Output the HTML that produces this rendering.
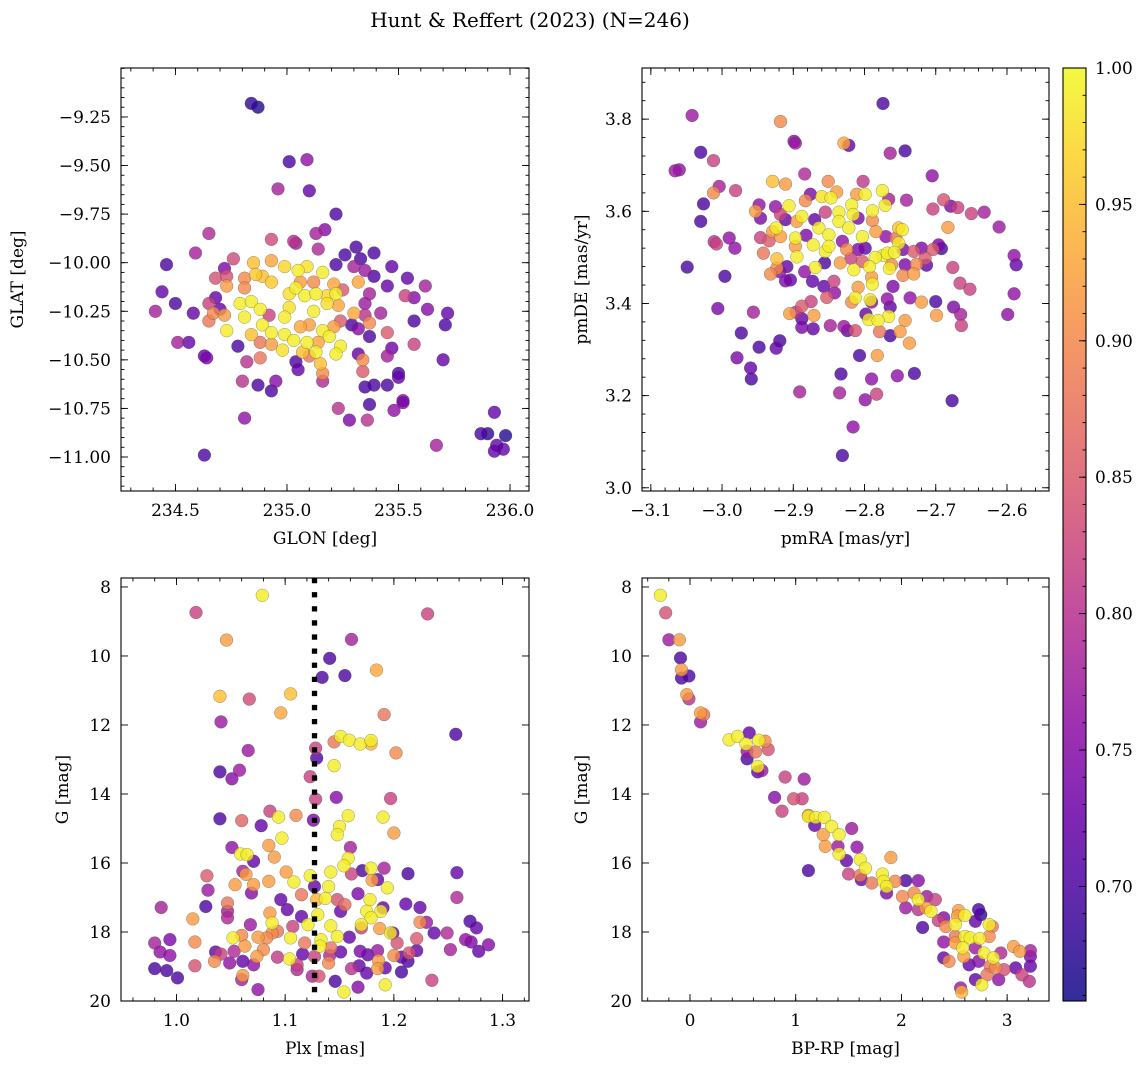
<!DOCTYPE html>
<html><head><meta charset="utf-8">
<style>
html,body{margin:0;padding:0;background:#fff;}
svg{display:block;font-family:"DejaVu Serif","Liberation Serif",serif;}
</style></head>
<body>
<svg id="fig" width="1148" height="1068" viewBox="0 0 1148 1068" xmlns="http://www.w3.org/2000/svg">
<text x="530" y="27" text-anchor="middle" font-size="20">Hunt &amp; Reffert (2023) (N=246)</text>
</svg>
<script>
// ---------- DATA ----------
// Panel 1: [GLON, GLAT, prob]
const skyPoints = [[234.84,-9.18,.68],[234.87,-9.20,.67],[235.01,-9.48,.70],[235.09,-9.47,.76],[234.96,-9.62,.78],[235.10,-9.63,.72],[235.22,-9.75,.70],[234.65,-9.85,.79],[235.13,-9.85,.78],[235.17,-9.83,.75],[234.93,-9.88,.83],[235.03,-9.89,.80],[235.04,-9.90,.78],[235.14,-9.93,.79],[234.59,-9.95,.78],[235.31,-9.92,.70],[235.39,-9.95,.70],[234.46,-10.01,.70],[235.26,-9.96,.70],[235.33,-9.98,.70],[235.22,-10.01,.70],[235.47,-10.02,.72],[234.76,-9.98,.83],[234.72,-10.03,.74],[234.85,-10.00,.95],[234.93,-9.99,.93],[234.99,-10.02,.97],[235.09,-10.02,.98],[235.05,-10.04,.99],[235.16,-10.05,.99],[235.30,-10.02,.78],[235.35,-10.04,.77],[235.39,-10.07,.70],[234.68,-10.08,.84],[234.73,-10.07,.84],[234.81,-10.08,.90],[234.86,-10.06,.96],[234.89,-10.07,.95],[234.93,-10.10,.96],[235.06,-10.10,.92],[235.12,-10.10,.90],[235.21,-10.11,.93],[235.32,-10.10,.93],[235.54,-10.08,.72],[235.62,-10.12,.78],[234.44,-10.15,.72],[234.73,-10.12,.92],[234.81,-10.13,.90],[235.04,-10.13,.99],[235.01,-10.16,.98],[235.08,-10.17,.99],[235.13,-10.16,.99],[235.18,-10.17,.97],[235.22,-10.16,.99],[235.25,-10.14,.85],[235.37,-10.16,.78],[235.45,-10.12,.72],[235.53,-10.17,.82],[235.57,-10.18,.75],[234.50,-10.21,.70],[234.68,-10.18,.72],[234.79,-10.21,.99],[234.84,-10.20,.99],[234.88,-10.24,.99],[235.01,-10.23,.98],[235.18,-10.21,.98],[235.23,-10.22,.93],[235.35,-10.21,.77],[235.63,-10.24,.75],[234.41,-10.25,.78],[234.58,-10.26,.72],[234.65,-10.21,.82],[234.70,-10.24,.72],[234.67,-10.26,.90],[234.72,-10.27,.92],[234.65,-10.30,.88],[234.81,-10.28,.99],[234.92,-10.27,.82],[234.99,-10.28,.99],[235.12,-10.25,.99],[235.30,-10.26,.93],[235.35,-10.27,.80],[235.42,-10.26,.78],[235.72,-10.26,.72],[234.73,-10.35,.99],[234.89,-10.32,.99],[234.84,-10.37,.95],[234.93,-10.36,.99],[235.06,-10.33,.93],[235.10,-10.32,.92],[235.16,-10.35,.99],[235.21,-10.33,.92],[235.24,-10.30,.85],[235.29,-10.32,.70],[235.32,-10.34,.75],[235.37,-10.31,.90],[235.57,-10.30,.70],[235.71,-10.32,.70],[235.45,-10.36,.85],[234.51,-10.41,.78],[234.56,-10.41,.72],[234.78,-10.43,.70],[234.88,-10.41,.88],[234.93,-10.42,.92],[234.99,-10.37,.99],[235.03,-10.40,.99],[235.09,-10.41,.99],[235.14,-10.41,.93],[235.19,-10.38,.99],[235.24,-10.43,.99],[235.37,-10.38,.70],[235.57,-10.42,.82],[234.98,-10.45,.98],[235.07,-10.46,.95],[235.13,-10.46,.99],[235.22,-10.47,.99],[235.32,-10.47,.72],[235.47,-10.44,.73],[235.45,-10.48,.78],[234.63,-10.48,.72],[234.64,-10.49,.74],[234.82,-10.51,.80],[234.88,-10.49,.88],[235.04,-10.51,.70],[235.10,-10.48,.88],[235.15,-10.52,.95],[235.34,-10.50,.90],[235.70,-10.50,.72],[235.05,-10.55,.72],[235.16,-10.57,.90],[235.34,-10.56,.85],[234.80,-10.61,.80],[234.87,-10.63,.70],[234.95,-10.61,.75],[234.93,-10.66,.70],[235.16,-10.61,.79],[235.35,-10.64,.70],[235.39,-10.63,.70],[235.45,-10.63,.70],[235.50,-10.57,.70],[235.50,-10.59,.72],[235.52,-10.71,.74],[235.52,-10.72,.74],[235.37,-10.73,.70],[235.23,-10.75,.80],[235.28,-10.81,.74],[235.36,-10.81,.80],[235.48,-10.76,.76],[234.81,-10.80,.76],[234.63,-10.99,.70],[235.67,-10.94,.78],[235.93,-10.77,.72],[235.87,-10.88,.70],[235.90,-10.88,.68],[235.98,-10.89,.67],[235.94,-10.94,.72],[235.93,-10.97,.72],[235.97,-10.96,.72]];

// Panel 2: [pmRA, pmDE, prob]
const pmPoints = [[-3.042,3.808,.77],[-2.774,3.834,.70],[-2.918,3.795,.90],[-2.899,3.752,.76],[-2.897,3.748,.77],[-2.829,3.748,.93],[-2.822,3.743,.72],[-2.764,3.726,.78],[-2.743,3.731,.70],[-3.030,3.728,.70],[-3.012,3.710,.82],[-3.066,3.688,.77],[-3.060,3.690,.76],[-2.884,3.681,.79],[-2.705,3.677,.76],[-3.004,3.654,.78],[-3.012,3.640,.90],[-2.981,3.645,.82],[-3.026,3.616,.70],[-3.030,3.578,.70],[-2.929,3.665,.95],[-2.911,3.659,.92],[-2.851,3.665,.90],[-2.802,3.665,.81],[-2.775,3.645,.99],[-2.799,3.637,.99],[-2.860,3.632,.98],[-2.847,3.629,.99],[-2.876,3.637,.74],[-2.883,3.623,.90],[-2.839,3.642,.92],[-2.811,3.637,.92],[-2.766,3.626,.78],[-2.741,3.624,.78],[-2.689,3.625,.84],[-2.679,3.611,.74],[-2.669,3.608,.82],[-2.650,3.595,.82],[-2.632,3.598,.78],[-2.611,3.566,.77],[-2.704,3.605,.82],[-2.948,3.614,.76],[-2.925,3.610,.76],[-2.906,3.612,.99],[-2.953,3.600,.92],[-2.946,3.585,.74],[-2.918,3.593,.82],[-2.911,3.582,.72],[-2.888,3.589,.99],[-2.895,3.578,.92],[-2.870,3.582,.72],[-2.855,3.598,.82],[-2.836,3.598,.99],[-2.818,3.614,.99],[-2.816,3.593,.99],[-2.809,3.585,.74],[-2.789,3.601,.99],[-2.771,3.613,.99],[-2.789,3.580,.90],[-2.836,3.578,.99],[-2.822,3.564,.99],[-2.924,3.564,.99],[-2.929,3.556,.92],[-2.918,3.545,.92],[-2.897,3.542,.99],[-2.882,3.548,.74],[-2.864,3.564,.99],[-2.850,3.549,.99],[-2.831,3.535,.76],[-2.803,3.545,.99],[-2.784,3.556,.92],[-2.770,3.545,.76],[-2.752,3.564,.95],[-2.747,3.560,.99],[-2.756,3.542,.88],[-2.946,3.543,.82],[-2.934,3.536,.85],[-3.011,3.534,.80],[-3.008,3.529,.82],[-2.990,3.542,.76],[-2.982,3.520,.76],[-2.942,3.509,.88],[-2.897,3.524,.92],[-2.872,3.527,.99],[-2.855,3.513,.99],[-2.850,3.524,.99],[-2.825,3.517,.90],[-2.809,3.517,.74],[-2.799,3.520,.72],[-2.752,3.531,.99],[-2.746,3.517,.74],[-2.774,3.504,.99],[-2.768,3.509,.99],[-2.758,3.511,.99],[-2.785,3.500,.99],[-2.731,3.513,.85],[-2.720,3.520,.74],[-2.704,3.517,.85],[-2.696,3.527,.74],[-2.692,3.519,.70],[-2.683,3.565,.92],[-2.590,3.504,.76],[-2.587,3.484,.72],[-2.923,3.497,.95],[-2.909,3.480,.72],[-2.923,3.477,.90],[-2.895,3.501,.99],[-2.869,3.478,.99],[-2.856,3.488,.70],[-2.834,3.488,.92],[-2.819,3.498,.82],[-2.803,3.491,.85],[-2.793,3.480,.99],[-2.815,3.473,.99],[-2.765,3.476,.99],[-2.762,3.484,.90],[-2.743,3.484,.74],[-2.727,3.485,.90],[-2.715,3.498,.85],[-2.713,3.483,.72],[-3.049,3.479,.70],[-2.996,3.459,.70],[-2.932,3.464,.90],[-2.919,3.469,.76],[-2.911,3.449,.74],[-2.904,3.451,.72],[-2.884,3.469,.76],[-2.873,3.448,.72],[-2.843,3.448,.82],[-2.790,3.457,.92],[-2.789,3.442,.99],[-2.746,3.461,.90],[-2.731,3.464,.92],[-2.676,3.478,.82],[-2.666,3.444,.82],[-2.652,3.431,.82],[-2.590,3.421,.76],[-2.857,3.437,.72],[-2.842,3.423,.76],[-2.853,3.413,.85],[-2.809,3.435,.92],[-2.760,3.437,.74],[-2.813,3.412,.99],[-2.818,3.403,.90],[-2.792,3.408,.99],[-2.790,3.403,.76],[-2.768,3.410,.76],[-2.736,3.412,.76],[-2.720,3.403,.92],[-2.700,3.404,.70],[-3.006,3.389,.74],[-2.956,3.381,.78],[-2.905,3.378,.92],[-2.896,3.381,.80],[-2.888,3.394,.85],[-2.875,3.404,.82],[-2.871,3.374,.92],[-2.888,3.367,.72],[-2.798,3.377,.72],[-2.764,3.392,.72],[-2.766,3.372,.99],[-2.794,3.365,.99],[-2.781,3.363,.99],[-2.743,3.363,.92],[-2.675,3.392,.74],[-2.665,3.376,.78],[-2.699,3.374,.92],[-2.599,3.376,.76],[-2.664,3.352,.82],[-2.973,3.336,.70],[-2.888,3.348,.74],[-2.872,3.345,.72],[-2.848,3.352,.78],[-2.829,3.350,.77],[-2.824,3.341,.72],[-2.813,3.341,.84],[-2.779,3.339,.88],[-2.764,3.330,.70],[-2.750,3.339,.92],[-2.737,3.314,.92],[-2.919,3.319,.70],[-2.924,3.303,.72],[-2.948,3.305,.70],[-2.979,3.282,.74],[-2.960,3.260,.72],[-2.959,3.236,.70],[-2.807,3.287,.70],[-2.782,3.287,.92],[-2.833,3.247,.70],[-2.790,3.236,.76],[-2.754,3.243,.76],[-2.730,3.248,.70],[-2.891,3.208,.78],[-2.835,3.206,.78],[-2.799,3.191,.76],[-2.783,3.203,.82],[-2.677,3.189,.70],[-2.816,3.132,.76],[-2.831,3.070,.70]];

// Panel 3: [Plx, G, prob]
const plxPoints = [[1.079,8.24,.99],[1.018,8.74,.82],[1.231,8.78,.82],[1.046,9.54,.92],[1.161,9.52,.78],[1.141,10.07,.70],[1.134,10.62,.70],[1.155,10.57,.70],[1.184,10.41,.93],[1.040,11.17,.95],[1.067,11.25,.83],[1.105,11.10,.95],[1.096,11.65,.93],[1.191,11.70,.88],[1.041,11.91,.77],[1.257,12.27,.70],[1.066,12.74,.77],[1.128,12.67,.82],[1.129,12.96,.70],[1.145,12.49,.88],[1.151,12.33,.99],[1.159,12.44,.99],[1.169,12.55,.99],[1.179,12.45,.99],[1.179,12.55,.94],[1.202,12.81,.90],[1.145,13.18,.99],[1.040,13.36,.70],[1.058,13.31,.77],[1.051,13.56,.75],[1.123,13.50,.82],[1.147,14.10,.75],[1.128,14.15,.82],[1.197,14.13,.82],[1.040,14.72,.70],[1.060,14.77,.86],[1.086,14.50,.82],[1.094,14.67,.99],[1.110,14.62,.90],[1.126,14.76,.74],[1.078,14.92,.72],[1.158,14.63,.99],[1.150,14.94,.99],[1.148,15.18,.99],[1.190,14.67,.99],[1.200,15.13,.92],[1.097,15.28,.99],[1.051,15.55,.76],[1.085,15.49,.92],[1.090,15.83,.92],[1.059,15.74,.99],[1.065,15.76,.99],[1.071,15.95,.72],[1.160,15.55,.78],[1.158,15.86,.99],[1.154,16.08,.99],[1.171,16.22,.70],[1.179,16.15,.99],[1.191,16.15,.78],[1.213,16.31,.70],[1.258,16.28,.72],[1.028,16.37,.85],[1.061,16.24,.78],[1.064,16.33,.92],[1.054,16.63,.92],[1.071,16.63,.92],[1.085,16.53,.92],[1.101,16.26,.92],[1.108,16.55,.99],[1.123,16.37,.99],[1.142,16.26,.99],[1.161,16.32,.82],[1.180,16.50,.92],[1.185,16.48,.72],[1.194,16.72,.99],[1.029,16.79,.77],[1.069,16.87,.75],[0.986,17.29,.78],[1.027,17.26,.70],[1.047,17.16,.88],[1.047,17.40,.78],[1.096,17.06,.72],[1.115,16.92,.88],[1.127,16.68,.72],[1.140,16.68,.99],[1.137,17.03,.99],[1.129,17.06,.94],[1.148,17.06,.84],[1.167,16.89,.74],[1.178,17.06,.99],[1.211,17.19,.72],[1.224,17.29,.72],[1.258,17.00,.79],[1.015,17.62,.92],[1.047,17.59,.79],[1.086,17.45,.92],[1.102,17.35,.72],[1.115,17.55,.72],[1.130,17.50,.99],[1.151,17.40,.72],[1.155,17.21,.87],[1.175,17.40,.99],[1.188,17.40,.99],[1.190,17.30,.72],[1.179,17.59,.99],[1.224,17.72,.90],[1.230,17.72,.77],[1.270,17.69,.70],[1.276,17.88,.72],[0.994,18.22,.74],[0.980,18.32,.78],[1.017,18.29,.90],[0.985,18.58,.76],[0.994,18.68,.76],[1.068,17.79,.77],[1.088,17.74,.99],[1.088,18.03,.90],[1.107,17.84,.82],[1.121,17.79,.99],[1.142,17.82,.99],[1.148,18.13,.99],[1.159,18.15,.72],[1.170,17.88,.82],[1.170,17.79,.99],[1.187,17.90,.92],[1.197,18.03,.99],[1.199,18.03,.72],[1.203,18.32,.84],[1.221,18.19,.85],[1.237,18.03,.72],[1.249,18.03,.79],[1.266,18.22,.76],[1.271,18.29,.74],[1.287,18.37,.75],[1.278,18.56,.72],[1.252,18.51,.78],[1.052,18.17,.99],[1.060,18.10,.90],[1.075,18.15,.92],[1.083,18.17,.90],[1.093,17.98,.88],[1.105,18.17,.99],[1.118,18.32,.88],[1.133,18.22,.99],[1.142,18.46,.88],[1.063,18.41,.92],[1.080,18.51,.90],[1.036,18.58,.72],[1.041,18.64,.82],[1.053,18.56,.79],[1.035,18.85,.90],[1.049,18.90,.76],[1.061,18.85,.72],[1.074,18.71,.92],[1.071,18.95,.76],[1.093,18.73,.81],[1.104,18.78,.99],[1.111,18.95,.82],[1.116,18.64,.72],[1.132,18.41,.99],[1.127,18.71,.82],[1.141,18.68,.79],[1.151,18.58,.72],[1.169,18.56,.74],[1.176,18.66,.72],[1.185,18.54,.77],[1.186,18.83,.92],[1.200,18.68,.90],[1.207,18.73,.72],[1.214,18.61,.84],[1.213,18.85,.70],[1.221,18.54,.72],[1.140,18.90,.90],[1.161,19.06,.80],[1.168,18.98,.72],[1.175,19.19,.72],[1.185,19.06,.92],[1.192,19.04,.72],[1.207,19.16,.70],[1.017,18.98,.84],[0.980,19.06,.70],[0.991,19.12,.70],[1.001,19.33,.70],[1.060,19.38,.78],[1.061,19.26,.92],[1.075,19.67,.76],[1.125,19.28,.79],[1.131,19.28,.84],[1.146,19.43,.70],[1.154,19.74,.99],[1.167,19.60,.75],[1.192,19.53,.99],[1.235,19.40,.82],[1.111,19.09,.79]];

// Panel 4: [BP-RP, G, prob]
const cmdPoints = [[-0.28,8.24,.99],[-0.23,8.75,.84],[-0.20,9.53,.77],[-0.10,9.53,.92],[-0.09,10.06,.70],[-0.08,10.40,.92],[-0.08,10.64,.70],[-0.01,10.58,.70],[-0.03,11.12,.92],[-0.01,11.24,.80],[0.10,11.65,.92],[0.13,11.70,.88],[0.10,11.91,.77],[0.37,12.43,.99],[0.45,12.33,.99],[0.56,12.23,.72],[0.53,12.55,.99],[0.65,12.44,.99],[0.71,12.47,.90],[0.74,12.71,.84],[0.54,12.76,.77],[0.62,12.78,.88],[0.54,12.98,.70],[0.64,13.20,.99],[0.64,13.36,.72],[0.68,13.32,.77],[0.90,13.51,.82],[1.08,13.57,.77],[0.80,14.10,.75],[0.98,14.14,.84],[1.06,14.14,.82],[0.87,14.50,.82],[1.12,14.62,.90],[1.12,14.65,.99],[1.19,14.68,.99],[1.27,14.68,.99],[1.18,14.91,.72],[1.26,15.18,.92],[1.34,14.94,.99],[1.41,15.18,.99],[1.53,15.00,.77],[1.28,15.52,.92],[1.40,15.52,.77],[1.58,15.54,.76],[1.41,15.74,.99],[1.48,15.93,.72],[1.61,15.90,.99],[1.66,16.15,.99],[1.90,15.84,.92],[1.12,16.22,.70],[1.50,16.32,.82],[1.61,16.36,.88],[1.62,16.48,.72],[1.72,16.58,.88],[1.82,16.32,.99],[1.83,16.53,.99],[1.86,16.68,.99],[1.86,16.87,.74],[1.94,16.53,.90],[2.04,16.51,.70],[2.16,16.51,.75],[2.01,16.97,.90],[2.12,16.87,.90],[2.16,17.06,.99],[2.04,17.30,.77],[2.16,17.35,.80],[2.24,16.97,.77],[2.32,17.06,.82],[2.28,17.40,.99],[2.23,17.30,.92],[2.35,17.67,.82],[2.42,17.84,.90],[2.51,17.79,.99],[2.54,17.38,.92],[2.60,17.52,.99],[2.40,17.59,.75],[2.53,17.54,.92],[2.20,17.87,.70],[2.73,17.35,.70],[2.75,17.50,.68],[2.70,17.69,.72],[2.83,17.79,.99],[2.86,17.84,.88],[2.60,18.13,.99],[2.65,18.17,.99],[2.74,18.19,.99],[2.51,18.13,.88],[2.83,18.13,.90],[2.40,18.29,.76],[2.51,18.32,.92],[2.58,18.46,.99],[2.70,18.46,.77],[2.78,18.61,.99],[2.87,18.75,.99],[2.94,18.61,.79],[3.06,18.42,.92],[3.12,18.56,.92],[3.22,18.54,.78],[3.22,18.71,.74],[2.40,18.75,.72],[2.45,18.85,.90],[2.59,18.71,.92],[2.64,18.95,.72],[2.73,18.85,.75],[2.84,18.99,.88],[2.89,19.04,.90],[2.97,19.09,.84],[3.08,19.04,.72],[3.22,18.99,.72],[3.14,19.24,.82],[3.21,19.43,.80],[2.92,19.38,.76],[2.81,19.24,.88],[2.70,19.38,.72],[2.76,19.53,.99],[2.56,19.62,.77],[2.57,19.74,.94]];

const plxXTicks = [1.0, 1.1, 1.2, 1.3];
const gTicks = [8, 10, 12, 14, 16, 18, 20];
const glonTicks = [234.5, 235.0, 235.5, 236.0];
const glatTicks = [-9.25, -9.5, -9.75, -10.0, -10.25, -10.5, -10.75, -11.0];
const pmraTicks = [-3.1, -3.0, -2.9, -2.8, -2.7, -2.6];
const pmdeTicks = [3.0, 3.2, 3.4, 3.6, 3.8];
const bprpTicks = [0, 1, 2, 3];
const cbarTicks = [0.70, 0.75, 0.80, 0.85, 0.90, 0.95, 1.00];
const plxCut = 1.127;
const vmin = 0.658, vmax = 1.0;

// ---------- HELPERS ----------
const NS = "http://www.w3.org/2000/svg";
const svg = document.getElementById('fig');
const FS = 17;
function mk(tag, attrs, parent) {
  const e = document.createElementNS(NS, tag);
  for (const k in attrs) e.setAttribute(k, attrs[k]);
  (parent || svg).appendChild(e);
  return e;
}
const plasma = [[13,8,135],[65,4,157],[106,0,168],[143,13,164],[177,42,144],[204,71,120],[225,100,98],[242,132,75],[252,166,54],[252,206,37],[240,249,33]];
function cmap(v) {
  let t = (v - vmin) / (vmax - vmin);
  t = Math.max(0, Math.min(1, t)) * 10;
  const i = Math.min(9, Math.floor(t)), f = t - i;
  const a = plasma[i], b = plasma[i + 1];
  return 'rgb(' + [0,1,2].map(k => Math.round(a[k] + (b[k] - a[k]) * f)).join(',') + ')';
}
function fmt(v, d) { const s = Math.abs(v).toFixed(d); return (v < -1e-9 ? '\u2212' : '') + s; }

function makeAxes(cfg) {
  const g = mk('g', {});
  
  
  const {L, T, W, H, x0, x1, y0, y1} = cfg;
  const sx = v => L + (v - x0) / (x1 - x0) * W;
  const sy = v => T + (v - y1) / (y0 - y1) * H;
  const clipId = cfg.name + '-clip';
  const cp = mk('clipPath', {id: clipId}, g);
  mk('rect', {x: L, y: T, width: W, height: H}, cp);
  const marks = mk('g', {'clip-path': 'url(#' + clipId + ')'}, g);
  
  
  const pts = cfg.points.slice().sort((a, b) => a[2] - b[2]);
  for (const p of pts) {
    const c = mk('circle', {cx: sx(p[0]).toFixed(1), cy: sy(p[1]).toFixed(1), r: 6.4, fill: cmap(p[2]), 'fill-opacity': 0.8, stroke: 'rgba(70,70,70,0.55)', 'stroke-width': 0.5}, marks);
    
    
  }
  if (cfg.extra) cfg.extra(marks, sx, sy);
  mk('rect', {x: L, y: T, width: W, height: H, fill: 'none', stroke: '#000', 'stroke-width': 1.1}, g);
  const tk = mk('g', {stroke: '#000', 'stroke-width': 0.9}, g);
  const eps = 1e-9;
  for (let v = Math.ceil(x0 / cfg.xminor - eps) * cfg.xminor; v <= x1 + eps; v += cfg.xminor) {
    const x = sx(v);
    mk('line', {x1: x, y1: T + H, x2: x, y2: T + H - 3.5}, tk);
    mk('line', {x1: x, y1: T, x2: x, y2: T + 3.5}, tk);
  }
  for (let v = Math.ceil(y0 / cfg.yminor - eps) * cfg.yminor; v <= y1 + eps; v += cfg.yminor) {
    const y = sy(v);
    mk('line', {x1: L, y1: y, x2: L + 3.5, y2: y}, tk);
    mk('line', {x1: L + W, y1: y, x2: L + W - 3.5, y2: y}, tk);
  }
  for (const v of cfg.xticks) {
    const x = sx(v);
    mk('line', {x1: x, y1: T + H, x2: x, y2: T + H - 7}, tk);
    mk('line', {x1: x, y1: T, x2: x, y2: T + 7}, tk);
    const t = mk('text', {x: x, y: T + H + 25, 'text-anchor': 'middle', 'font-size': FS}, g);
    t.textContent = fmt(v, cfg.xdec);
    
    
  }
  for (const v of cfg.yticks) {
    const y = sy(v);
    mk('line', {x1: L, y1: y, x2: L + 7, y2: y}, tk);
    mk('line', {x1: L + W, y1: y, x2: L + W - 7, y2: y}, tk);
    const t = mk('text', {x: L - 10, y: y + 6, 'text-anchor': 'end', 'font-size': FS}, g);
    t.textContent = fmt(v, cfg.ydec);
    
    
  }
  const xl = mk('text', {x: L + W / 2, y: T + H + 53, 'text-anchor': 'middle', 'font-size': FS}, g);
  xl.textContent = cfg.xlabel;
  
  
  const yx = cfg.ylabelX;
  const yl = mk('text', {x: yx, y: T + H / 2, 'text-anchor': 'middle', 'font-size': FS, transform: 'rotate(-90 ' + yx + ' ' + (T + H / 2) + ')'}, g);
  yl.textContent = cfg.ylabel;
  
  
}

makeAxes({name: 'sky-panel', L: 121, T: 68, W: 408, H: 423, x0: 234.256, x1: 236.085, y0: -11.175, y1: -8.998,
  xminor: 0.1, yminor: 0.05, xticks: glonTicks, yticks: glatTicks, xdec: 1, ydec: 2,
  xlabel: 'GLON [deg]', ylabel: 'GLAT [deg]', ylabelX: 23, points: skyPoints});
makeAxes({name: 'proper-motion-panel', L: 642, T: 68, W: 407, H: 423, x0: -3.1124, x1: -2.541, y0: 2.993, y1: 3.911,
  xminor: 0.02, yminor: 0.04, xticks: pmraTicks, yticks: pmdeTicks, xdec: 1, ydec: 1,
  xlabel: 'pmRA [mas/yr]', ylabel: 'pmDE [mas/yr]', ylabelX: 587, points: pmPoints});
makeAxes({name: 'parallax-panel', L: 121, T: 578, W: 408, H: 423, x0: 0.949, x1: 1.3243, y0: 20, y1: 7.74,
  xminor: 0.02, yminor: 0.5, xticks: plxXTicks, yticks: gTicks, xdec: 1, ydec: 0,
  xlabel: 'Plx [mas]', ylabel: 'G [mag]', ylabelX: 68, points: plxPoints,
  extra: function (g, sx, sy) {
    const l = mk('line', {x1: sx(plxCut), y1: 578, x2: sx(plxCut), y2: 1001, stroke: '#000', 'stroke-width': 5.3, 'stroke-dasharray': '5.3 8.8'}, g);
    
    
  }});
makeAxes({name: 'cmd-panel', L: 642, T: 578, W: 407, H: 423, x0: -0.454, x1: 3.396, y0: 20, y1: 7.74,
  xminor: 0.2, yminor: 0.5, xticks: bprpTicks, yticks: gTicks, xdec: 0, ydec: 0,
  xlabel: 'BP-RP [mag]', ylabel: 'G [mag]', ylabelX: 587, points: cmdPoints});

// ---------- COLORBAR ----------
(function () {
  const L = 1063, T = 68, W = 23, H = 933;
  const g = mk('g', {});
  
  
  const defs = mk('defs', {}, g);
  const lg = mk('linearGradient', {id: 'cbgrad', x1: 0, y1: 1, x2: 0, y2: 0}, defs);
  for (let i = 0; i <= 20; i++) {
    const v = vmin + (vmax - vmin) * i / 20;
    mk('stop', {offset: (i / 20), 'stop-color': cmap(v), 'stop-opacity': 0.85}, lg);
  }
  mk('rect', {x: L, y: T, width: W, height: H, fill: 'url(#cbgrad)', stroke: '#000', 'stroke-width': 1.1}, g);
  const sy = v => T + (vmax - v) / (vmax - vmin) * H;
  for (let v = 0.66; v <= 1.0001; v += 0.01) {
    const y = sy(v);
    mk('line', {x1: L + W, y1: y, x2: L + W - 3.5, y2: y, stroke: '#000', 'stroke-width': 0.9}, g);
  }
  for (const v of cbarTicks) {
    const y = sy(v);
    mk('line', {x1: L + W, y1: y, x2: L + W - 7, y2: y, stroke: '#000', 'stroke-width': 0.9}, g);
    const t = mk('text', {x: L + W + 9, y: y + 6, 'font-size': FS}, g);
    t.textContent = v.toFixed(2);
    
    
  }
})();
</script>
</body></html>
